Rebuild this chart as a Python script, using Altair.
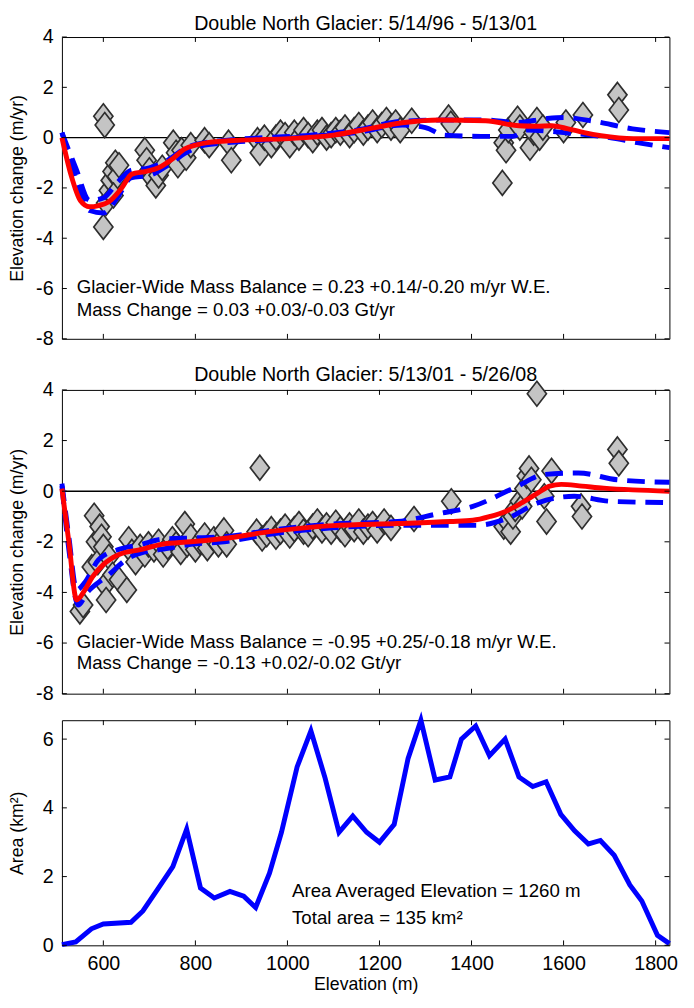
import altair as alt
import pandas as pd

FONT = "Liberation Sans"

# ---------------- Panel 1: 5/14/96 - 5/13/01 ----------------
p1_elev = [600, 603, 600, 606, 612, 616, 620, 626, 630, 622, 634,
           690, 694, 700, 706, 714, 720, 728,
           752, 758, 762, 770, 780, 790, 820, 830, 872, 878, 935, 940, 950,
           965, 975, 985, 995, 1005, 1015, 1025, 1035, 1045, 1055, 1065, 1075, 1085,
           1095, 1105, 1115, 1125, 1135, 1145, 1155, 1165, 1175, 1185, 1195, 1205,
           1215, 1225, 1235, 1245, 1270, 1350, 1355,
           1467, 1470, 1475, 1480, 1500, 1505, 1527, 1535, 1542, 1548, 1555,
           1600, 1605, 1642, 1717, 1720]
p1_dh = [0.85, 0.5, -3.55, -2.6, -2.1, -1.7, -1.35, -1.0, -1.55, -2.3, -1.1,
         -0.5, -0.9, -1.3, -1.6, -1.9, -1.5, -1.2,
         -0.2, -0.6, -1.1, -0.5, -0.8, -0.3, -0.1, -0.3, -0.2, -0.9, -0.1, -0.6, 0.0,
         -0.3, 0.0, 0.2, 0.1, -0.3, 0.2, 0.0, 0.3, 0.1, -0.1, 0.2, 0.3, 0.0,
         0.1, 0.3, 0.2, 0.4, 0.1, 0.3, 0.5, 0.2, 0.4, 0.6, 0.3, 0.5,
         0.7, 0.4, 0.6, 0.3, 0.67, 0.8, 0.55,
         -1.8, -0.2, -0.5, 0.3, 0.75, 0.4, -0.4, 0.2, 0.7, 0.0, 0.4,
         0.3, 0.6, 0.9, 1.7, 1.1]

p1_red_elev = [510, 530, 550, 570, 590, 612, 640, 662, 690, 720, 750, 777, 800, 826, 900,
               1003, 1100, 1190, 1254, 1330, 1431, 1503, 1540, 1574, 1610, 1645, 1681, 1752, 1830]
p1_red_dh = [0.0, -1.5, -2.5, -2.75, -2.7, -2.55, -2.0, -1.45, -1.35, -1.2, -0.85, -0.45, -0.3, -0.2, -0.1,
             -0.04, 0.1, 0.4, 0.6, 0.7, 0.67, 0.47, 0.45, 0.47, 0.35, 0.2, 0.08, -0.04, -0.04]

p1_up_elev = [510, 540, 570, 600, 630, 660, 700, 740, 780, 820, 870, 950, 1050, 1150, 1250,
              1350, 1430, 1500, 1560, 1600, 1660, 1750, 1830]
p1_up_dh = [0.2, -1.2, -2.5, -2.4, -1.8, -1.3, -1.2, -0.9, -0.4, -0.2, -0.1, 0.0, 0.1, 0.3, 0.65,
            0.7, 0.7, 0.6, 0.75, 0.8, 0.67, 0.35, 0.2]
p1_lo_elev = [510, 540, 570, 600, 630, 660, 700, 740, 780, 820, 870, 950, 1050, 1150, 1250,
              1300, 1340, 1420, 1490, 1520, 1600, 1700, 1760, 1830]
p1_lo_dh = [0.2, -1.6, -2.9, -3.0, -2.4, -1.6, -1.5, -1.1, -0.6, -0.3, -0.2, -0.1, 0.05, 0.2, 0.5,
            0.4, 0.1, 0.05, 0.05, 0.3, 0.2, 0.0, -0.2, -0.4]

p1_text = ["Glacier-Wide Mass Balance = 0.23 +0.14/-0.20 m/yr W.E.",
           "Mass Change = 0.03 +0.03/-0.03 Gt/yr"]
p1_text_elev = [542, 542]
p1_text_dh = [-5.95, -6.85]

# ---------------- Panel 2: 5/13/01 - 5/26/08 ----------------
p2_elev = [549, 556, 575, 580, 584, 588, 592, 596, 600, 604, 606, 612, 620, 634, 651, 655,
           662, 670, 680, 690, 698, 710, 720, 730, 740, 750, 758, 768, 777, 782, 790, 800,
           810, 820, 826, 840, 850, 862, 868,
           933, 940, 945, 955, 965, 975, 985, 995, 1005, 1015, 1025, 1035, 1045, 1055, 1065,
           1075, 1085, 1095, 1105, 1115, 1125, 1135, 1145, 1155, 1165, 1175, 1185, 1195,
           1210, 1225, 1275, 1356,
           1470, 1478, 1485, 1490, 1495, 1505, 1510, 1515, 1520, 1525, 1530, 1542, 1558,
           1563, 1574, 1638, 1640, 1717, 1720]
p2_dh = [-4.75, -4.5, -3.0, -0.97, -2.0, -2.8, -1.4, -1.8, -2.2, -3.7, -4.3, -2.6, -3.3, -3.5, -3.9, -1.9,
         -2.4, -2.8, -2.2, -2.5, -2.1, -2.3, -2.0, -2.5, -2.2, -1.9, -2.1, -2.4, -1.3, -2.1, -1.8, -2.3,
         -2.0, -1.75, -2.25, -1.9, -2.1, -1.55, -2.1,
         -1.6, 0.93, -1.87, -1.7, -1.5, -1.8, -1.6, -1.4, -1.75, -1.5, -1.3, -1.6, -1.7, -1.4, -1.2,
         -1.55, -1.35, -1.6, -1.25, -1.5, -1.7, -1.35, -1.5, -1.2, -1.6, -1.4, -1.3, -1.55,
         -1.2, -1.45, -1.1, -0.4,
         -1.4, -1.2, -1.6, -1.0, -0.7, -0.4, -0.6, 0.1, 0.6, 0.9, 0.45, 3.85, -0.2,
         -1.2, 0.8, -0.6, -1.0, 1.65, 1.1]

p2_red_elev = [510, 525, 542, 560, 576, 600, 634, 683, 726, 790, 862, 961, 1098, 1239, 1354,
               1403, 1440, 1474, 1510, 1546, 1570, 1595, 1640, 1687, 1750, 1830]
p2_red_dh = [0.1, -2.0, -4.3, -3.9, -3.4, -2.9, -2.5, -2.3, -2.1, -2.0, -1.87, -1.6, -1.36, -1.28, -1.2,
             -1.15, -1.0, -0.8, -0.45, -0.05, 0.2, 0.27, 0.2, 0.12, 0.05, 0.0]

p2_up_elev = [510, 525, 542, 560, 590, 634, 683, 726, 790, 862, 961, 1098, 1239, 1325, 1403,
              1495, 1559, 1632, 1717, 1830]
p2_up_dh = [0.3, -1.8, -3.9, -3.6, -2.7, -2.3, -2.1, -1.9, -1.85, -1.8, -1.55, -1.3, -1.2, -0.9, -0.6,
            0.15, 0.66, 0.72, 0.45, 0.35]
p2_lo_elev = [510, 525, 545, 565, 612, 650, 690, 726, 790, 862, 961, 1098, 1239, 1354, 1410,
              1474, 1546, 1623, 1702, 1830]
p2_lo_dh = [0.2, -2.3, -4.5, -4.0, -3.3, -2.7, -2.4, -2.3, -2.1, -2.0, -1.7, -1.45, -1.35, -1.35, -1.35,
            -1.1, -0.45, -0.2, -0.4, -0.45]

p2_text = ["Glacier-Wide Mass Balance = -0.95 +0.25/-0.18 m/yr W.E.",
           "Mass Change = -0.13 +0.02/-0.02 Gt/yr"]
p2_text_elev = [542, 542]
p2_text_dh = [-5.95, -6.8]

# ---------------- Panel 3: area-elevation ----------------
p3_elev = [510, 540, 574, 600, 660, 686, 720, 751, 781, 811, 841, 875, 905, 931, 961, 987,
           1021, 1051, 1082, 1112, 1142, 1172, 1200, 1232, 1262, 1290, 1321, 1353, 1378, 1409,
           1439, 1473, 1503, 1533, 1562, 1594, 1624, 1654, 1680, 1710, 1744, 1770, 1804, 1830]
p3_area = [0.02, 0.1, 0.48, 0.62, 0.67, 1.0, 1.67, 2.29, 3.38, 1.67, 1.38, 1.57, 1.43, 1.1, 2.1, 3.29,
           5.19, 6.24, 4.86, 3.29, 3.76, 3.29, 3.0, 3.52, 5.43, 6.55, 4.81, 4.9, 6.0, 6.38,
           5.52, 6.0, 4.9, 4.62, 4.76, 3.81, 3.33, 2.95, 3.05, 2.62, 1.76, 1.29, 0.29, 0.05]
p3_text = ["Area Averaged Elevation = 1260 m", "Total area = 135 km\u00b2"]
p3_text_elev = [1010, 1010]
p3_text_area = [1.57, 0.8]

x_ticks = [600, 800, 1000, 1200, 1400, 1600, 1800]
dh_ticks = [-8, -6, -4, -2, 0, 2, 4]
area_ticks = [0, 2, 4, 6]

# ---------------- styling ----------------
W = 618
H1, H2, H3 = 307, 309, 229
LABEL_FS, TITLE_FS, ANN_FS, HEAD_FS = 20, 18, 19, 20
DIAMOND = "M0,-1.3L1,0L0,1.3L-1,0Z"
xs = alt.Scale(domain=[510, 1830], nice=False, zero=False)


def tick_layers(H, yscale, yfield, xaxis_none=True):
    xt = pd.DataFrame({"elev": x_ticks})
    yvals = area_ticks if yfield == "area" else dh_ticks
    yt = pd.DataFrame({yfield: yvals})
    bx = alt.Chart(xt).mark_rule(color="black", strokeWidth=1)
    by = alt.Chart(yt).mark_rule(color="black", strokeWidth=1)
    xe = alt.X("elev:Q", scale=xs, axis=None) if xaxis_none else alt.X("elev:Q", scale=xs)
    ye = alt.Y(f"{yfield}:Q", scale=yscale)
    return [
        bx.encode(x=xe, y=alt.value(0), y2=alt.value(5)),
        bx.encode(x=xe, y=alt.value(H), y2=alt.value(H - 5)),
        by.encode(y=ye, x=alt.value(0), x2=alt.value(5)),
        by.encode(y=ye, x=alt.value(W), x2=alt.value(W - 5)),
    ]


def dh_panel(title, elev, dh, red_e, red_v, up_e, up_v, lo_e, lo_v, texts, t_e, t_v, H):
    ys = alt.Scale(domain=[-8, 4], nice=False, zero=False)
    xe = alt.X("elev:Q", scale=xs, axis=None)
    yaxis = alt.Axis(values=dh_ticks, title="Elevation change (m/yr)", labelExpr="'' + datum.value")
    zero = alt.Chart(pd.DataFrame({"dh": [0]})).mark_rule(color="black", strokeWidth=1.5).encode(
        y=alt.Y("dh:Q", scale=ys, axis=yaxis))
    pts = alt.Chart(pd.DataFrame({"elev": elev, "dh": dh})).mark_point(
        shape=DIAMOND, filled=True, fill="#c4c4c4", stroke="#2e2e2e", strokeWidth=1.7,
        size=380, opacity=1).encode(x=xe, y=alt.Y("dh:Q", scale=ys))
    bdf = pd.concat([
        pd.DataFrame({"elev": up_e, "dh": up_v, "b": "upper"}),
        pd.DataFrame({"elev": lo_e, "dh": lo_v, "b": "lower"}),
    ])
    blue = alt.Chart(bdf).mark_line(color="#0000ff", strokeWidth=5, strokeDash=[18, 10],
                                    interpolate="monotone").encode(
        x=xe, y=alt.Y("dh:Q", scale=ys), detail="b:N")
    red = alt.Chart(pd.DataFrame({"elev": red_e, "dh": red_v})).mark_line(
        color="#ff0000", strokeWidth=5, interpolate="monotone").encode(
        x=xe, y=alt.Y("dh:Q", scale=ys))
    txt = alt.Chart(pd.DataFrame({"elev": t_e, "dh": t_v, "t": texts})).mark_text(
        align="left", baseline="middle", fontSize=ANN_FS, font=FONT, color="black").encode(
        x=xe, y=alt.Y("dh:Q", scale=ys), text="t:N")
    layers = [zero, pts, blue, red, txt] + tick_layers(H, ys, "dh")
    return alt.layer(*layers).properties(
        width=W, height=H,
        title=alt.TitleParams(title, fontSize=HEAD_FS, font=FONT, fontWeight="normal",
                              offset=-7, anchor="middle", color="black", frame="group"))


p1 = dh_panel("Double North Glacier: 5/14/96 - 5/13/01", p1_elev, p1_dh,
              p1_red_elev, p1_red_dh, p1_up_elev, p1_up_dh, p1_lo_elev, p1_lo_dh,
              p1_text, p1_text_elev, p1_text_dh, H1)
p2 = dh_panel("Double North Glacier: 5/13/01 - 5/26/08", p2_elev, p2_dh,
              p2_red_elev, p2_red_dh, p2_up_elev, p2_up_dh, p2_lo_elev, p2_lo_dh,
              p2_text, p2_text_elev, p2_text_dh, H2)

ys3 = alt.Scale(domain=[0, 6.55], nice=False, zero=False)
xaxis3 = alt.Axis(values=x_ticks, title="Elevation (m)", format="d", labelPadding=9, titlePadding=3)
area_line = alt.Chart(pd.DataFrame({"elev": p3_elev, "area": p3_area})).mark_line(
    color="#0000ff", strokeWidth=5).encode(
    x=alt.X("elev:Q", scale=xs, axis=xaxis3),
    y=alt.Y("area:Q", scale=ys3, axis=alt.Axis(values=area_ticks, title="Area (km\u00b2)")))
area_txt = alt.Chart(pd.DataFrame({"elev": p3_text_elev, "area": p3_text_area, "t": p3_text})).mark_text(
    align="left", baseline="middle", fontSize=ANN_FS, font=FONT, color="black").encode(
    x=alt.X("elev:Q", scale=xs), y=alt.Y("area:Q", scale=ys3), text="t:N")
p3 = alt.layer(area_line, area_txt, *tick_layers(H3, ys3, "area", xaxis_none=False)).properties(
    width=W, height=H3)

lower = alt.vconcat(p2, p3, spacing=5)
chart = alt.vconcat(p1, lower, spacing=15).properties(
    padding={"left": 8, "top": 5, "right": 14, "bottom": 0}
).configure_view(
    stroke="black", strokeWidth=1
).configure_axis(
    domain=False, ticks=False, grid=False,
    labelFont=FONT, titleFont=FONT, labelFontSize=LABEL_FS, titleFontSize=TITLE_FS,
    labelColor="black", titleColor="black", titleFontWeight="normal",
    labelPadding=9, titlePadding=8, minExtent=28, maxExtent=28
)

chart.save("out.html", embed_options={"renderer": "svg", "actions": False})
